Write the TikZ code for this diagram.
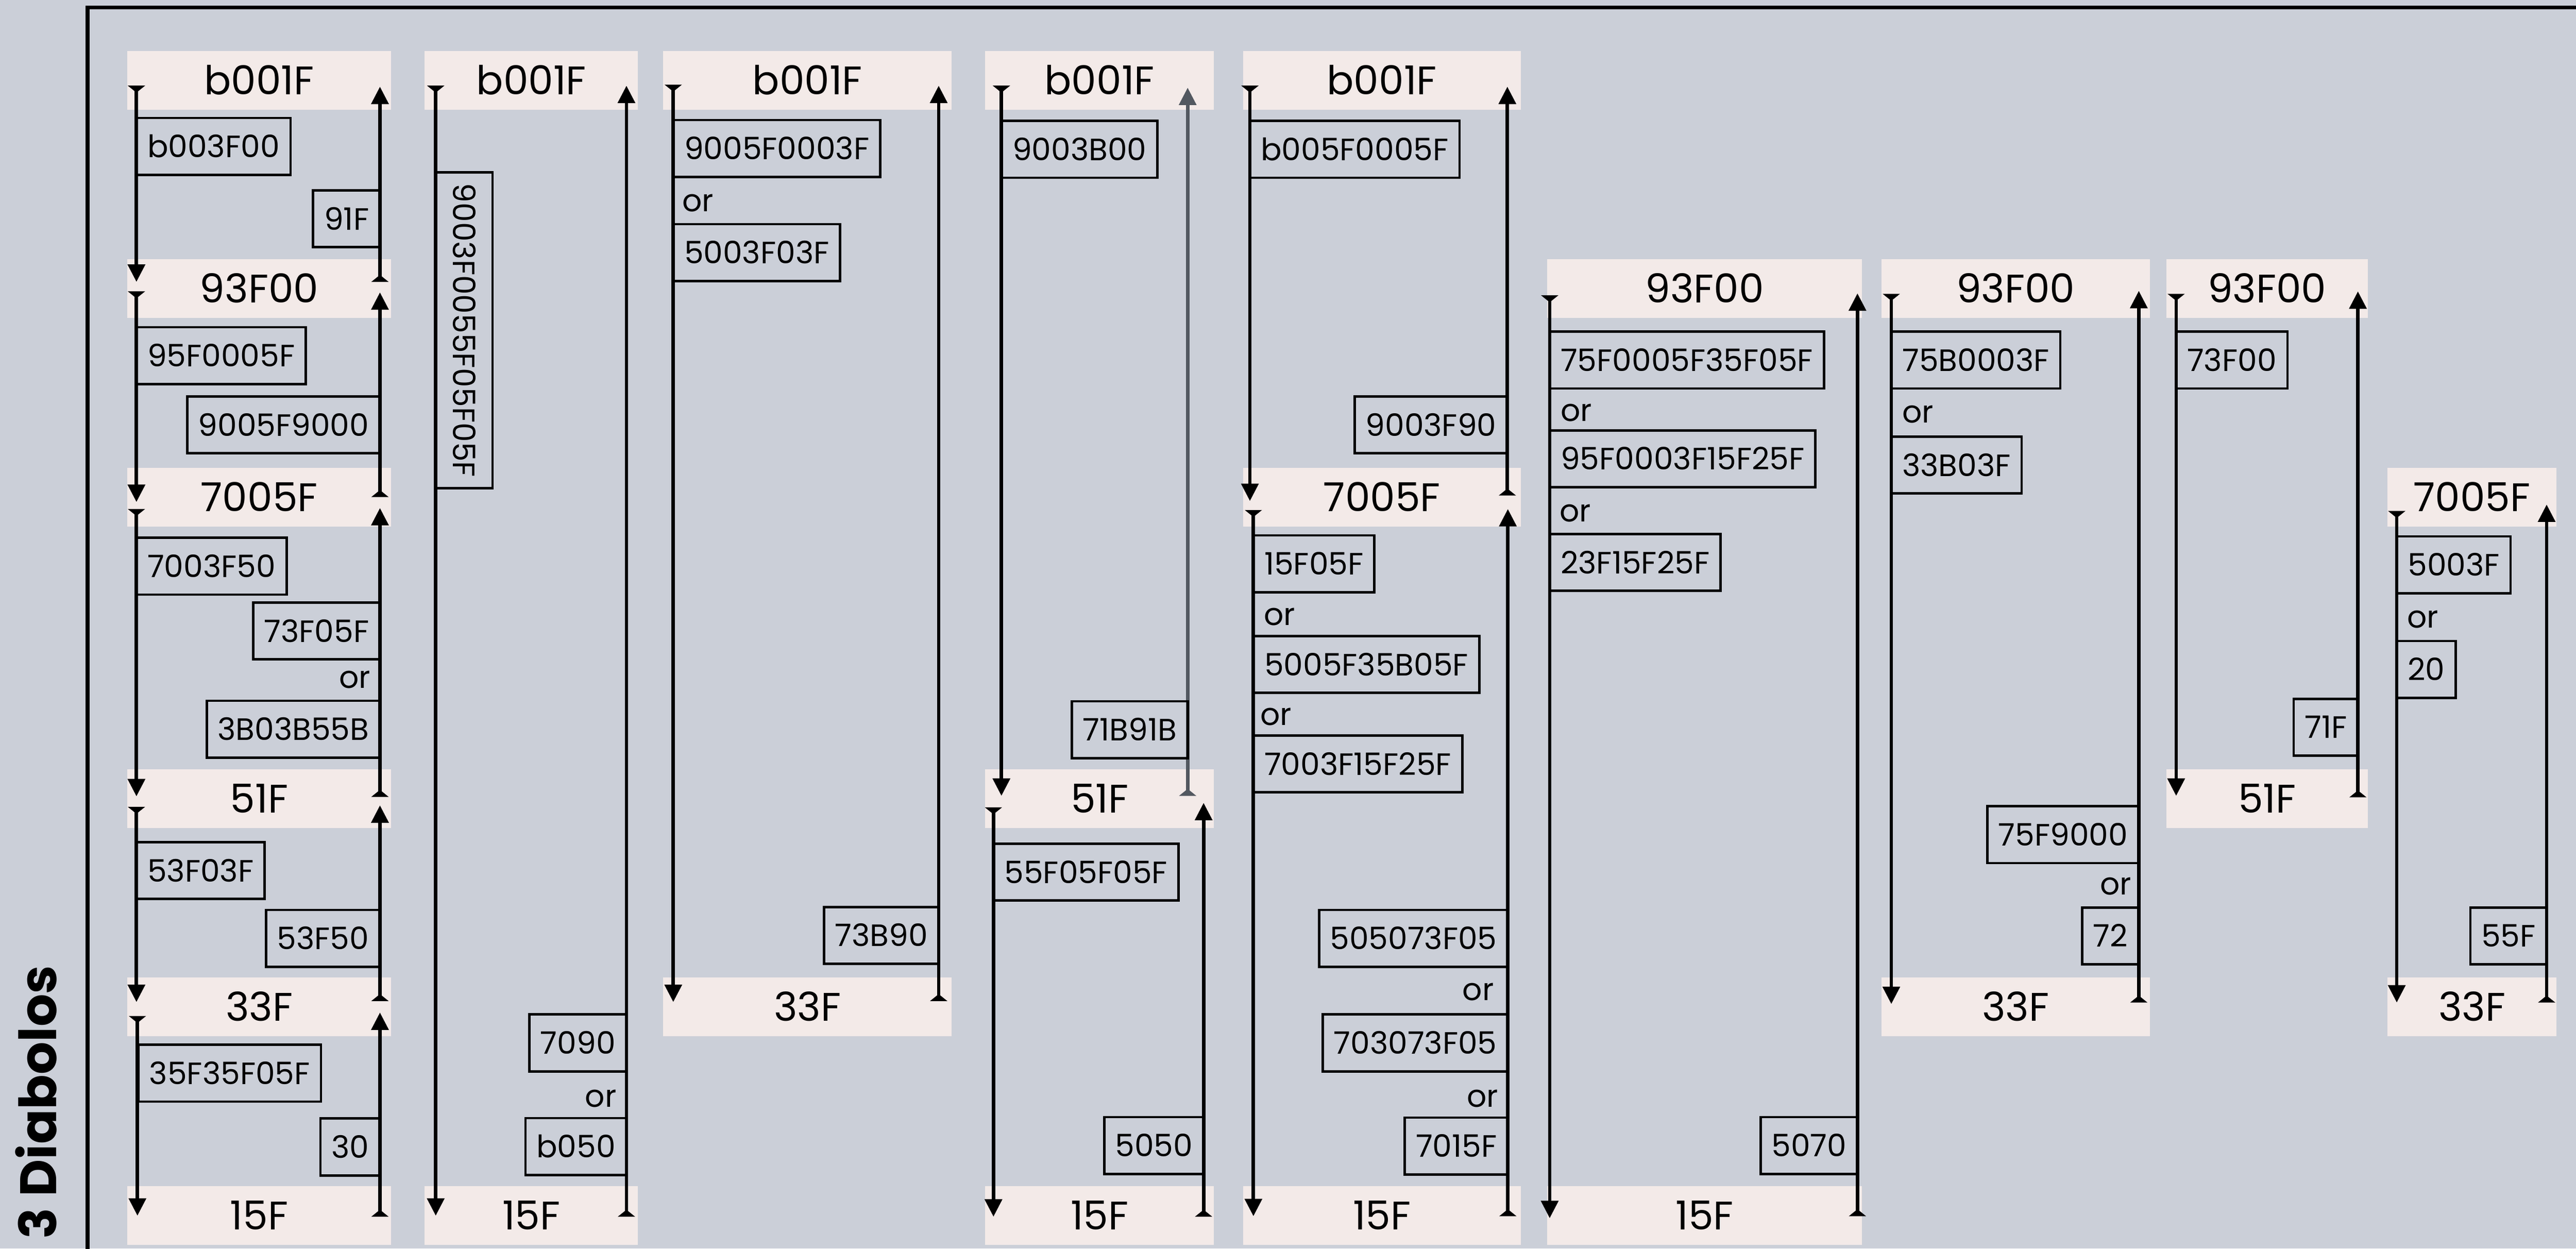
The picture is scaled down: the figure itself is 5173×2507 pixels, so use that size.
\documentclass[tikz,border=0pt]{standalone}
\usepackage{fontspec}
\setmainfont{Poppins}
\usetikzlibrary{arrows.meta}
\definecolor{PAPER}{HTML}{CBCFD8}
\definecolor{CELL}{HTML}{F3EAE8}
\definecolor{DIM}{HTML}{525860}
\tikzset{
ARC/.style={draw=black,line width=7pt,arrows={Triangle[reversed,length=14pt,width=34pt]-Triangle[length=35pt,width=34pt]}},
DIMARC/.style={ARC,draw=DIM},
BOX/.style={fill=CELL,inner sep=0pt,outer sep=0pt,minimum height=118pt,text height=57pt,text depth=0pt,font=\fontsize{80}{96}\selectfont},
LABEL/.style={draw=black,line width=5pt,inner xsep=22pt,inner ysep=0pt,outer sep=0pt,minimum height=114pt,text height=45pt,text depth=0pt,font=\fontsize{62}{74}\selectfont},
OR/.style={inner sep=0pt,font=\fontsize{62}{74}\selectfont},
}
\begin{document}
\begin{tikzpicture}[x=1pt,y=-1pt]
\useasboundingbox (0,0) rectangle (5173,2507);
\fill[PAPER] (0,0) rectangle (5173,2507);
\clip (0,0) rectangle (5173,2507);
\draw[line width=8pt] (176,2600) |- (5300,15);
\node[rotate=90,font=\fontsize{103}{120}\selectfont\bfseries] (title) at (72,2213) {3 Diabolos};

% level boxes
\node[BOX,minimum width=529pt] (c1r0) at (520.5,161) {b001F};
\node[BOX,minimum width=529pt] (c1r1) at (520.5,579) {93F00};
\node[BOX,minimum width=529pt] (c1r2) at (520.5,998) {7005F};
\node[BOX,minimum width=529pt] (c1r3) at (520.5,1604) {51F};
\node[BOX,minimum width=529pt] (c1r4) at (520.5,2022) {33F};
\node[BOX,minimum width=529pt] (c1r5) at (520.5,2441) {15F};
\node[BOX,minimum width=428pt] (c2r0) at (1067,161) {b001F};
\node[BOX,minimum width=428pt] (c2r5) at (1067,2441) {15F};
\node[BOX,minimum width=579pt] (c3r0) at (1621.5,161) {b001F};
\node[BOX,minimum width=579pt] (c3r4) at (1621.5,2022) {33F};
\node[BOX,minimum width=460pt] (c4r0) at (2208,161) {b001F};
\node[BOX,minimum width=460pt] (c4r3) at (2208,1604) {51F};
\node[BOX,minimum width=460pt] (c4r5) at (2208,2441) {15F};
\node[BOX,minimum width=558pt] (c5r0) at (2775,161) {b001F};
\node[BOX,minimum width=558pt] (c5r2) at (2775,998) {7005F};
\node[BOX,minimum width=558pt] (c5r5) at (2775,2441) {15F};
\node[BOX,minimum width=632pt] (c6r1) at (3423,579) {93F00};
\node[BOX,minimum width=632pt] (c6r5) at (3423,2441) {15F};
\node[BOX,minimum width=539pt] (c7r1) at (4047.5,579) {93F00};
\node[BOX,minimum width=539pt] (c7r4) at (4047.5,2022) {33F};
\node[BOX,minimum width=405pt] (c8r1) at (4552.5,579) {93F00};
\node[BOX,minimum width=405pt] (c8r3) at (4552.5,1604) {51F};
\node[BOX,minimum width=340pt] (c9r2) at (4964,998) {7005F};
\node[BOX,minimum width=340pt] (c9r4) at (4964,2022) {33F};

% column 1
\path[ARC] ([shift={(18,70)}]c1r0.north west) -- ([shift={(18,46)}]c1r1.north west);
\path[ARC] ([shift={(-22,46)}]c1r1.north east) -- ([shift={(-22,72)}]c1r0.north east);
\path[ARC] ([shift={(18,65)}]c1r1.north west) -- ([shift={(18,69)}]c1r2.north west);
\path[ARC] ([shift={(-22,59)}]c1r2.north east) -- ([shift={(-22,67)}]c1r1.north east);
\path[ARC] ([shift={(18,83)}]c1r2.north west) -- ([shift={(18,54)}]c1r3.north west);
\path[ARC] ([shift={(-22,55)}]c1r3.north east) -- ([shift={(-22,81)}]c1r2.north east);
\path[ARC] ([shift={(18,75)}]c1r3.north west) -- ([shift={(18,49)}]c1r4.north west);
\path[ARC] ([shift={(-22,47)}]c1r4.north east) -- ([shift={(-22,72)}]c1r3.north east);
\path[ARC] ([shift={(20,77)}]c1r4.north west) -- ([shift={(20,59)}]c1r5.north west);
\path[ARC] ([shift={(-22,61)}]c1r5.north east) -- ([shift={(-22,70)}]c1r4.north east);
\node[LABEL,anchor=west] (c1a) at (274,294) {b003F00};
\node[LABEL,anchor=east] (c1b) at (763,439) {91F};
\node[LABEL,anchor=west] (c1c) at (274,714) {95F0005F};
\node[LABEL,anchor=east] (c1d) at (763,853) {9005F9000};
\node[LABEL,anchor=west] (c1e) at (274,1137) {7003F50};
\node[LABEL,anchor=east] (c1f) at (763,1267) {73F05F};
\node[OR,anchor=east] (c1o) at (744,1365) {or};
\node[LABEL,anchor=east] (c1g) at (763,1464) {3B03B55B};
\node[LABEL,anchor=west] (c1h) at (274,1748) {53F03F};
\node[LABEL,anchor=east] (c1i) at (763,1884) {53F50};
\node[LABEL,anchor=west] (c1j) at (278,2155) {35F35F05F};
\node[LABEL,anchor=east] (c1k) at (763,2303) {30};

% column 2
\path[ARC] ([shift={(22,70)}]c2r0.north west) -- ([shift={(22,59)}]c2r5.north west);
\path[ARC] ([shift={(-23,61)}]c2r5.north east) -- ([shift={(-23,70)}]c2r0.north east);
\node[LABEL,rotate=-90,anchor=south] (c2a) at (875,663) {9003F0055F05F05F};
\node[LABEL,anchor=east] (c2b) at (1258,2094) {7090};
\node[OR,anchor=east] (c2o) at (1238,2206) {or};
\node[LABEL,anchor=east] (c2c) at (1258,2302) {b050};

% column 3
\path[ARC] ([shift={(20,68)}]c3r0.north west) -- ([shift={(20,49)}]c3r4.north west);
\path[ARC] ([shift={(-26,47)}]c3r4.north east) -- ([shift={(-26,70)}]c3r0.north east);
\node[LABEL,anchor=west] (c3a) at (1352,298) {9005F0003F};
\node[OR,anchor=west] (c3o) at (1370,408) {or};
\node[LABEL,anchor=west] (c3b) at (1352,507) {5003F03F};
\node[LABEL,anchor=east] (c3c) at (1885,1878) {73B90};

% column 4
\path[ARC] ([shift={(33,70)}]c4r0.north west) -- ([shift={(33,53)}]c4r3.north west);
\path[DIMARC] ([shift={(-53,53)}]c4r3.north east) -- ([shift={(-53,74)}]c4r0.north east);
\path[ARC] ([shift={(17,76)}]c4r3.north west) -- ([shift={(17,61)}]c4r5.north west);
\path[ARC] ([shift={(-21,61)}]c4r5.north east) -- ([shift={(-21,67)}]c4r3.north east);
\node[LABEL,anchor=west] (c4a) at (2011,300) {9003B00};
\node[LABEL,anchor=east] (c4b) at (2385,1465) {71B91B};
\node[LABEL,anchor=west] (c4c) at (1995,1751) {55F05F05F};
\node[LABEL,anchor=east] (c4d) at (2417,2300) {5050};

% column 5
\path[ARC] ([shift={(14,70)}]c5r0.north west) -- ([shift={(14,67)}]c5r2.north west);
\path[ARC] ([shift={(-27,56)}]c5r2.north east) -- ([shift={(-27,72)}]c5r0.north east);
\path[ARC] ([shift={(21,85)}]c5r2.north west) -- ([shift={(21,60)}]c5r5.north west);
\path[ARC] ([shift={(-26,60)}]c5r5.north east) -- ([shift={(-26,83)}]c5r2.north east);
\node[LABEL,anchor=west] (c5a) at (2510,300) {b005F0005F};
\node[LABEL,anchor=east] (c5b) at (3027,853) {9003F90};
\node[LABEL,anchor=west] (c5c) at (2517,1132) {15F05F};
\node[OR,anchor=west] (c5o1) at (2538,1238) {or};
\node[LABEL,anchor=west] (c5d) at (2517,1334) {5005F35B05F};
\node[OR,anchor=west] (c5o2) at (2531,1439) {or};
\node[LABEL,anchor=west] (c5e) at (2517,1534) {7003F15F25F};
\node[LABEL,anchor=east] (c5f) at (3028,1884) {505073F05};
\node[OR,anchor=east] (c5o3) at (3000,1992) {or};
\node[LABEL,anchor=east] (c5g) at (3028,2094) {703073F05};
\node[OR,anchor=east] (c5o4) at (3009,2206) {or};
\node[LABEL,anchor=east] (c5h) at (3028,2301) {7015F};

% column 6
\path[ARC] ([shift={(5,73)}]c6r1.north west) -- ([shift={(5,64)}]c6r5.north west);
\path[ARC] ([shift={(-9,60)}]c6r5.north east) -- ([shift={(-9,69)}]c6r1.north east);
\node[LABEL,anchor=west] (c6a) at (3112,723) {75F0005F35F05F};
\node[OR,anchor=west] (c6o1) at (3134,829) {or};
\node[LABEL,anchor=west] (c6b) at (3112,921) {95F0003F15F25F};
\node[OR,anchor=west] (c6o2) at (3132,1030) {or};
\node[LABEL,anchor=west] (c6c) at (3112,1129) {23F15F25F};
\node[LABEL,anchor=east] (c6d) at (3730,2300) {5070};

% column 7
\path[ARC] ([shift={(20,70)}]c7r1.north west) -- ([shift={(20,53)}]c7r4.north west);
\path[ARC] ([shift={(-22,50)}]c7r4.north east) -- ([shift={(-22,64)}]c7r1.north east);
\node[LABEL,anchor=west] (c7a) at (3798,723) {75B0003F};
\node[OR,anchor=west] (c7o1) at (3820,832) {or};
\node[LABEL,anchor=west] (c7b) at (3798,934) {33B03F};
\node[LABEL,anchor=east] (c7c) at (4295,1676) {75F9000};
\node[OR,anchor=east] (c7o2) at (4280,1780) {or};
\node[LABEL,anchor=east] (c7d) at (4295,1879) {72};

% column 8
\path[ARC] ([shift={(20,70)}]c8r1.north west) -- ([shift={(20,53)}]c8r3.north west);
\path[ARC] ([shift={(-20,56)}]c8r3.north east) -- ([shift={(-20,65)}]c8r1.north east);
\node[LABEL,anchor=west] (c8a) at (4370,723) {73F00};
\node[LABEL,anchor=east] (c8b) at (4735,1460) {71F};

% column 9
\path[ARC] ([shift={(19,87)}]c9r2.north west) -- ([shift={(19,50)}]c9r4.north west);
\path[ARC] ([shift={(-20,50)}]c9r4.north east) -- ([shift={(-20,74)}]c9r2.north east);
\node[LABEL,anchor=west] (c9a) at (4813,1134) {5003F};
\node[OR,anchor=west] (c9o) at (4834,1244) {or};
\node[LABEL,anchor=west] (c9b) at (4813,1344) {20};
\node[LABEL,anchor=east] (c9c) at (5114,1879) {55F};
\end{tikzpicture}
\end{document}
